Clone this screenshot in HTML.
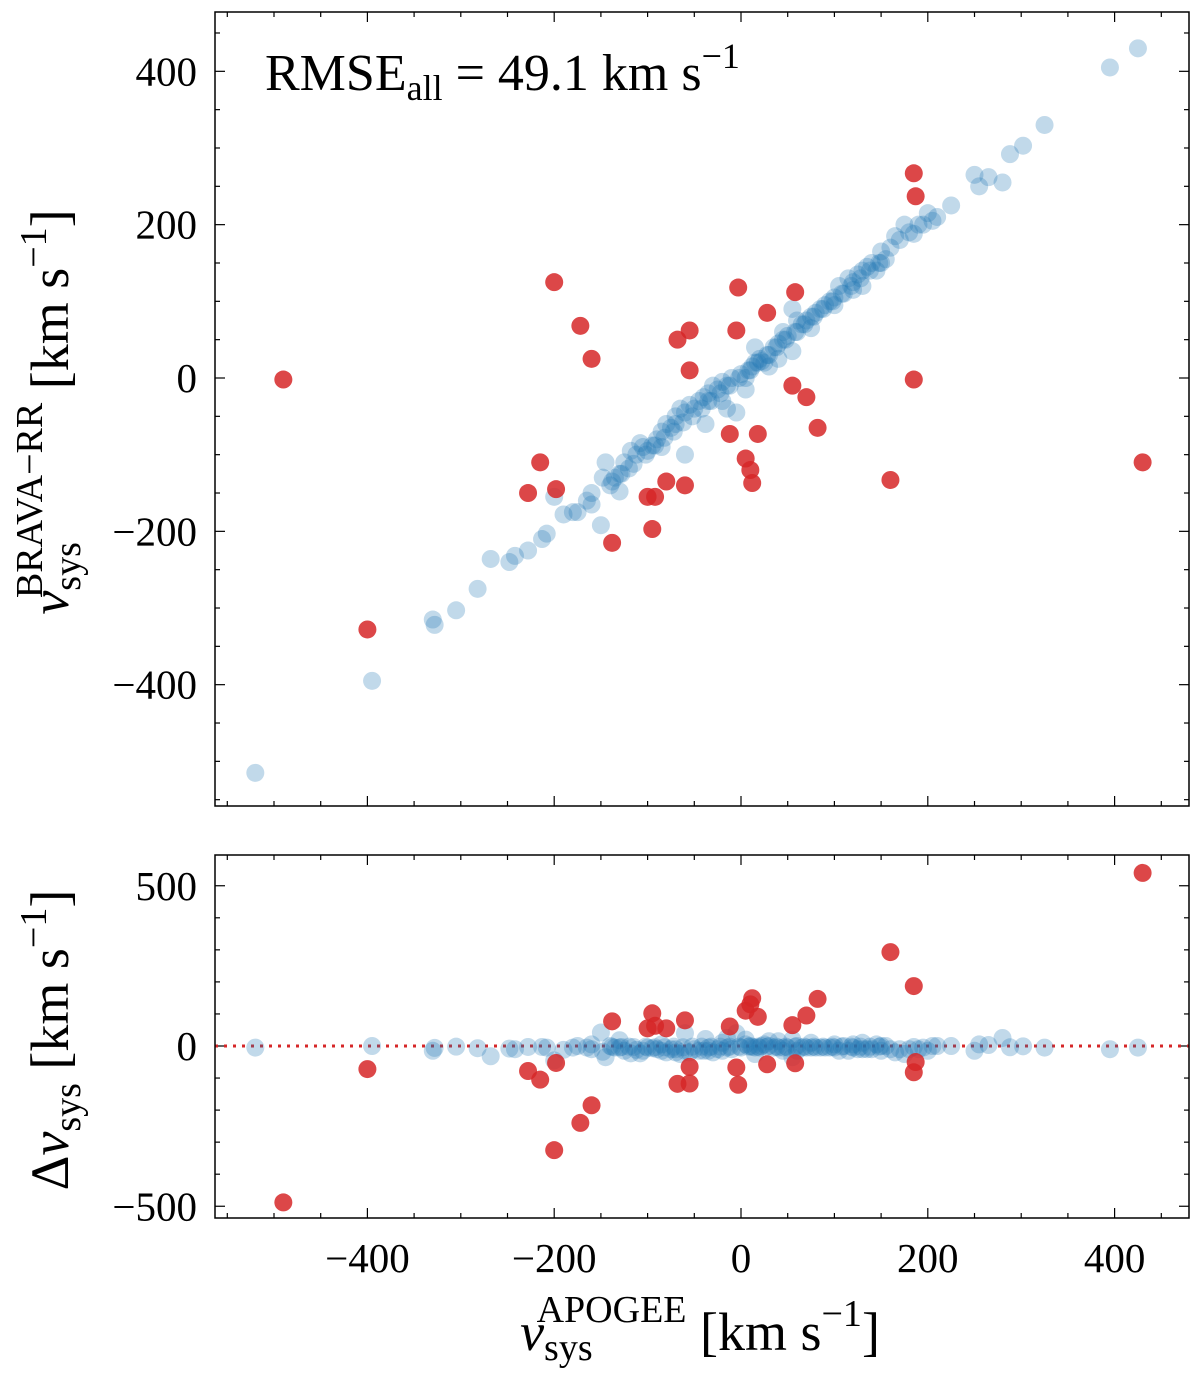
<!DOCTYPE html>
<html><head><meta charset="utf-8"><style>
html,body{margin:0;padding:0;background:#fff}
svg text{font-family:"Liberation Serif",serif;fill:#000}
</style></head><body>
<svg id="chart" width="1200" height="1371" xmlns="http://www.w3.org/2000/svg"></svg>
<script>
// Data
const redX=[-490,-200,-172,-160,-400,-215,-228,-198,-138,-100,-92,-95,-80,-60,-68,-55,-55,-5,-3,-12,5,10,12,18,28,55,58,70,82,160,185,187,185,430];
const redY=[-2,125,68,25,-328,-110,-150,-145,-215,-155,-155,-197,-135,-140,50,62,10,62,118,-73,-105,-120,-137,-73,85,-10,112,-25,-65,-133,267,237,-2,-110];
const blueX=[-520,-395,-330,-328,-305,-282,-268,-248,-242,-228,-213,-208,-200,-190,-180,-175,-165,-160,-150,-145,-140,-135,-130,-125,-120,-112,-108,-100,-95,-90,-85,-80,-75,-70,-65,-60,-55,-50,-45,-40,-38,-35,-30,-25,-20,-15,-10,-5,0,5,8,12,15,20,25,30,35,40,45,50,55,60,65,70,75,80,85,90,95,100,105,110,115,120,125,130,135,140,145,150,160,165,170,175,180,190,200,210,225,250,255,265,280,288,302,325,395,425,-148,-118,-105,-70,-60,-35,15,45,60,100,55,40,-130,120,-85,-20,5,30,75,130,150,-160,-15,-138,-128,-115,-102,-92,-82,-72,-62,-52,-42,-32,-22,-12,-2,10,18,22,28,38,48,58,68,78,88,98,108,118,128,138,148,155,185,195,205];
const blueY=[-515,-395,-315,-322,-303,-275,-236,-240,-232,-225,-210,-203,-155,-178,-175,-175,-160,-150,-192,-110,-140,-130,-125,-110,-118,-100,-85,-95,-88,-80,-70,-60,-65,-50,-40,-45,-35,-40,-30,-25,-60,-20,-10,-15,-5,-10,0,-45,5,0,10,15,20,25,20,30,40,45,50,55,90,60,70,75,80,85,90,95,100,105,120,110,130,125,135,140,145,150,140,165,170,185,180,200,190,200,215,210,225,265,250,262,255,292,303,330,405,430,-130,-95,-90,-60,-100,-30,40,60,75,95,35,25,-148,115,-90,-30,-15,15,65,120,150,-165,-40,-135,-125,-112,-100,-88,-78,-70,-58,-50,-40,-30,-20,-10,0,10,20,22,30,40,50,60,70,80,90,100,110,120,130,140,150,155,188,200,205];
const topYTicks=[400,200,0,-200,-400];
const botYTicks=[500,0,-500];
const xTicks=[-400,-200,0,200,400];

const NS="http://www.w3.org/2000/svg";
const svg=document.getElementById('chart');
function el(t,a,p){const e=document.createElementNS(NS,t);for(const k in a)e.setAttribute(k,a[k]);(p||svg).appendChild(e);return e;}
const X0=215,X1=1189;
const xs=v=>741+0.934*v;
const ysT=v=>378-0.7667*v;
const ysB=v=>1046-0.3205*v;
const T={y0:12,y1:806}, B={y0:855,y1:1218};

function ticks(y0,y1,ys,minorStep,majorStep,ymin,ymax,g){
  for(let v=-600;v<=600;v+=50){const x=xs(v);if(x<X0||x>X1)continue;const L=v%200===0?10:5;
    el('line',{x1:x,x2:x,y1:y1,y2:y1-L,stroke:'#000','stroke-width':1.2},g);
    el('line',{x1:x,x2:x,y1:y0,y2:y0+L,stroke:'#000','stroke-width':1.2},g);}
  for(let v=ymin;v<=ymax;v+=minorStep){const y=ys(v);if(y<y0||y>y1)continue;const L=v%majorStep===0?10:5;
    el('line',{x1:X0,x2:X0+L,y1:y,y2:y,stroke:'#000','stroke-width':1.2},g);
    el('line',{x1:X1,x2:X1-L,y1:y,y2:y,stroke:'#000','stroke-width':1.2},g);}
}
function lbl(v){return v<0?'\u2212'+Math.abs(v):''+v;}

// top panel
const gT=el('g',{});
ticks(T.y0,T.y1,ysT,50,200,-600,600,gT);
for(const v of topYTicks){const t=el('text',{x:197,y:ysT(v)+14,'text-anchor':'end','font-size':41},gT);t.textContent=lbl(v);
  }
for(let i=0;i<blueX.length;i++){const c=el('circle',{cx:xs(blueX[i]),cy:ysT(blueY[i]),r:9,fill:'#1f77b4','fill-opacity':0.28},gT);
  }
for(let i=0;i<redX.length;i++){const c=el('circle',{cx:xs(redX[i]),cy:ysT(redY[i]),r:9,fill:'#d62728','fill-opacity':0.85},gT);
  }
el('rect',{x:X0,y:T.y0,width:X1-X0,height:T.y1-T.y0,fill:'none',stroke:'#000','stroke-width':1.5},gT);
const ann=el('text',{x:265,y:90,'font-size':52},gT);

ann.innerHTML='RMSE<tspan font-size="36" dy="10">all</tspan><tspan dy="-10"> = 49.1 km s</tspan><tspan font-size="36" dy="-22">\u22121</tspan>';
const yl=el('text',{transform:'translate(68,412) rotate(-90)','text-anchor':'middle','font-size':54},gT);

yl.innerHTML='<tspan font-style="italic">v</tspan><tspan font-size="38" dy="12">sys</tspan><tspan font-size="38" dx="-56" dy="-38">BRAVA\u2212RR</tspan><tspan dy="26"> [km s</tspan><tspan font-size="38" dy="-22">\u22121</tspan><tspan dy="22">]</tspan>';

// bottom panel
const gB=el('g',{});
ticks(B.y0,B.y1,ysB,100,500,-600,600,gB);
for(const v of botYTicks){const t=el('text',{x:197,y:ysB(v)+14,'text-anchor':'end','font-size':41},gB);t.textContent=lbl(v);
  }
for(const v of xTicks){const t=el('text',{x:xs(v),y:1272,'text-anchor':'middle','font-size':41},gB);t.textContent=lbl(v);
  }
const zl=el('line',{x1:X0,x2:X1,y1:ysB(0),y2:ysB(0),stroke:'#d62728','stroke-width':3,'stroke-dasharray':'3,6'},gB);

for(let i=0;i<blueX.length;i++){const c=el('circle',{cx:xs(blueX[i]),cy:ysB(blueX[i]-blueY[i]),r:9,fill:'#1f77b4','fill-opacity':0.28},gB);
  }
for(let i=0;i<redX.length;i++){const c=el('circle',{cx:xs(redX[i]),cy:ysB(redX[i]-redY[i]),r:9,fill:'#d62728','fill-opacity':0.85},gB);
  }
el('rect',{x:X0,y:B.y0,width:X1-X0,height:B.y1-B.y0,fill:'none',stroke:'#000','stroke-width':1.5},gB);
const bl=el('text',{transform:'translate(68,1040) rotate(-90)','text-anchor':'middle','font-size':54},gB);

bl.innerHTML='\u0394<tspan font-style="italic">v</tspan><tspan font-size="38" dy="12">sys</tspan><tspan dy="-12"> [km s</tspan><tspan font-size="38" dy="-22">\u22121</tspan><tspan dy="22">]</tspan>';
const xl=el('text',{x:700,y:1350,'text-anchor':'middle','font-size':54},gB);

xl.innerHTML='<tspan font-style="italic">v</tspan><tspan font-size="38" dy="10">sys</tspan><tspan font-size="38" dx="-56" dy="-38">APOGEE</tspan><tspan dy="28"> [km s</tspan><tspan font-size="38" dy="-24">\u22121</tspan><tspan dy="24">]</tspan>';
</script>
</body></html>
